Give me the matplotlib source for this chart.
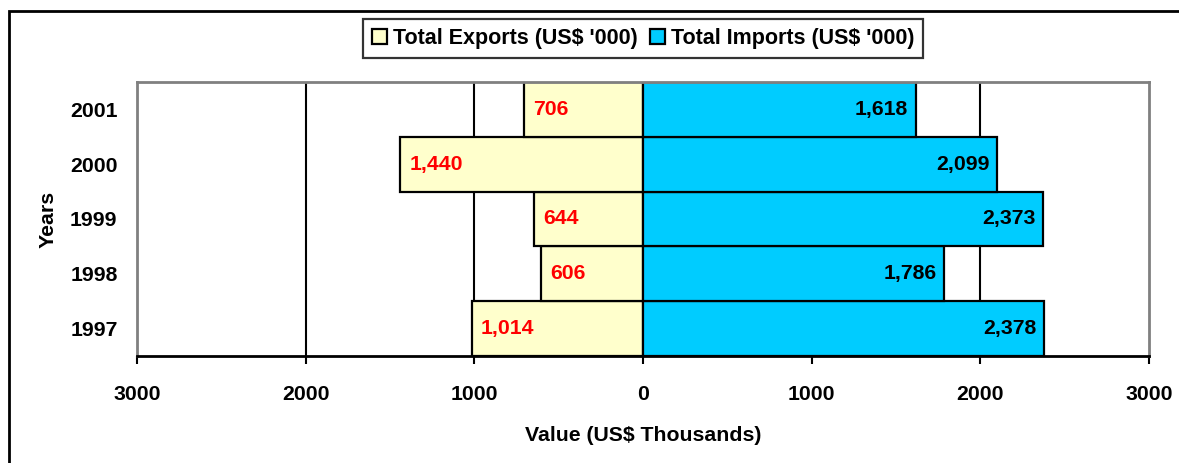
import numpy as np
import matplotlib.pyplot as plt
from matplotlib.patches import Rectangle

# 数据
years = ['1997', '1998', '1999', '2000', '2001']
exports = [1014, 606, 644, 1440, 706]
imports = [2378, 1786, 2373, 2099, 1618]
xticks = [-3000, -2000, -1000, 0, 1000, 2000, 3000]

plt.rcParams['font.family'] = ['Liberation Sans', 'DejaVu Sans']
plt.rcParams['font.weight'] = 'bold'
fs = 15.3

fig = plt.figure(figsize=(11.79, 4.63), dpi=100)
ax = fig.add_axes([137/1179, 1-356/463, (1149-137)/1179, (356-82)/463])

y = np.arange(len(years))
for g in [-2000, -1000, 1000, 2000]:
    ax.axvline(g, color='black', lw=1.5, zorder=1)

ax.barh(y, [-v for v in exports], height=1.0, color='#FFFFCC', edgecolor='black',
        lw=1.6, zorder=2, label="Total Exports (US$ '000)")
ax.barh(y, imports, height=1.0, color='#00CCFF', edgecolor='black',
        lw=1.6, zorder=2, label="Total Imports (US$ '000)")

for i in range(len(years)):
    ax.annotate(f'{exports[i]:,}', (-exports[i], y[i]), xytext=(6.5, 0), textcoords='offset points',
                ha='left', va='center', color='red', fontsize=fs, fontweight='bold', zorder=3)
    ax.annotate(f'{imports[i]:,}', (imports[i], y[i]), xytext=(-5.5, 0), textcoords='offset points',
                ha='right', va='center', color='black', fontsize=fs, fontweight='bold', zorder=3)

ax.set_xlim(-3000, 3000)
ax.set_ylim(-0.5, 4.5)
ax.set_xticks(xticks)
ax.set_xticklabels([str(abs(t)) for t in xticks], fontsize=fs, fontweight='bold')
ax.set_yticks(y)
ax.set_yticklabels(years, fontsize=fs, fontweight='bold')
ax.tick_params(axis='y', length=0, pad=14)
ax.tick_params(axis='x', direction='out', length=6, width=1.5, pad=15)

for s in ['left', 'top', 'right']:
    ax.spines[s].set_color('#808080')
    ax.spines[s].set_linewidth(2)
ax.spines['bottom'].set_color('black')
ax.spines['bottom'].set_linewidth(2)
ax.spines['bottom'].set_zorder(4)

ax.set_xlabel('Value (US$ Thousands)', fontsize=fs, fontweight='bold', labelpad=16)
ax.set_ylabel('Years', fontsize=fs, fontweight='bold', labelpad=9)

leg = fig.legend(loc='center', bbox_to_anchor=(643/1179, 1-38.5/463), ncol=2, fontsize=15.5,
                 frameon=True, fancybox=False, edgecolor='black', handlelength=0.7,
                 handleheight=0.7, handletextpad=0.28, columnspacing=0.55, borderpad=0.42,
                 borderaxespad=0)
leg.get_frame().set_linewidth(1.6)
for t in leg.get_texts():
    t.set_fontweight('bold')

fig.patches.append(Rectangle((9/1179, -0.1), 1.2, 1-11/463+0.1, transform=fig.transFigure,
                             fill=False, edgecolor='black', lw=2, zorder=10))

fig.savefig('out.png', dpi=100)
